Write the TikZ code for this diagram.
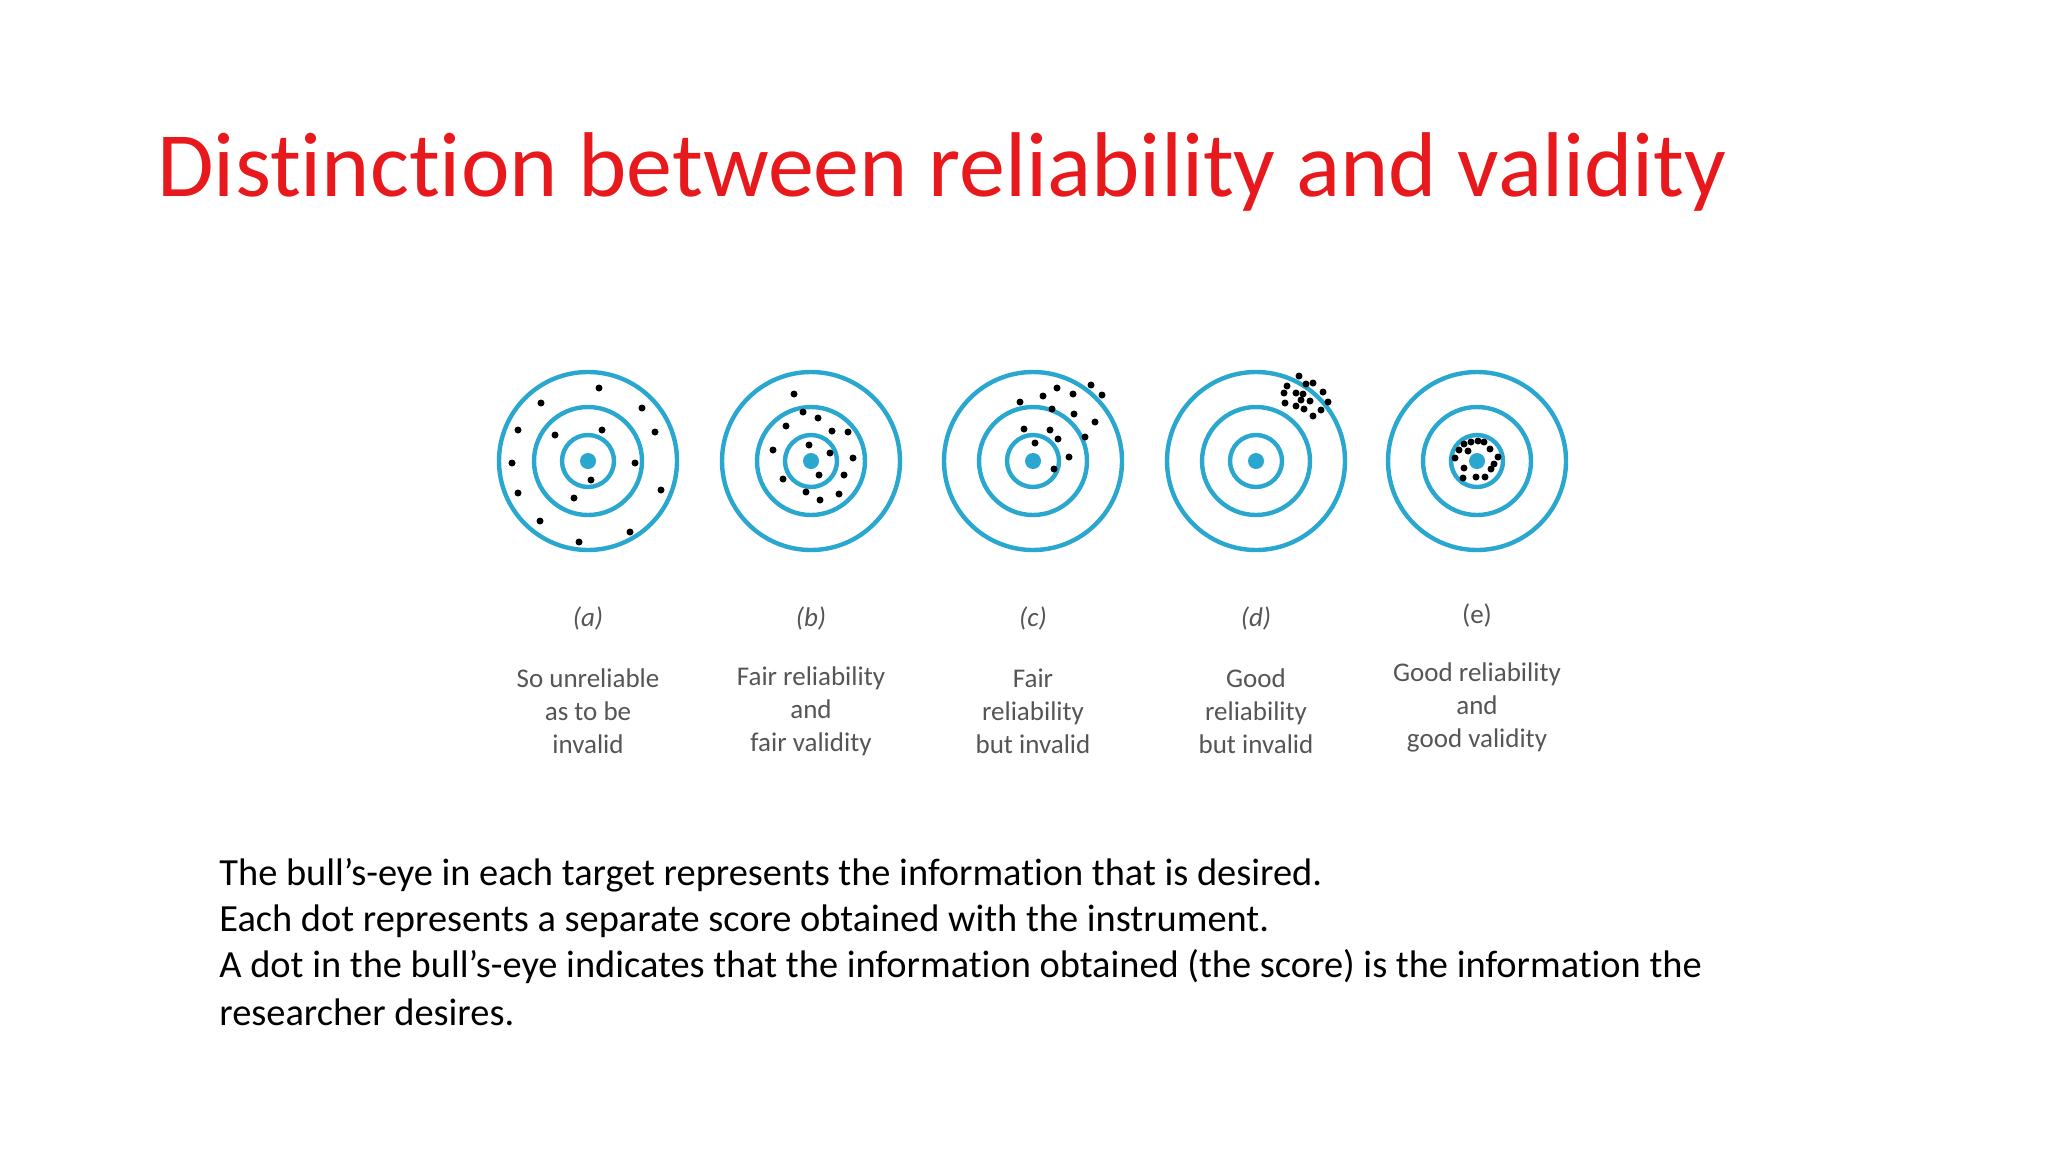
\documentclass[tikz,border=0pt]{standalone}
\usepackage{fontspec}
\usetikzlibrary{calc}
\setmainfont[Ligatures=NoCommon]{Carlito}
\definecolor{ring}{HTML}{2AA7CF}
\definecolor{ttl}{HTML}{E8191C}
\definecolor{lbl}{HTML}{555555}
\begin{document}
\begin{tikzpicture}[x=0.5pt,y=-0.5pt,
  ringst/.style={draw=ring,line width=2.2pt},
  bull/.style={fill=ring},
  dotst/.style={fill=black},
  lab/.style={text=lbl,font=\fontsize{13.5}{16.5}\selectfont,align=center},
  body/.style={anchor=west,font=\fontsize{19.2}{22}\selectfont,inner sep=0pt}]
\useasboundingbox (0,0) rectangle (2048,1152);
\fill[white] (0,0) rectangle (2048,1152);
\node[anchor=west,text=ttl,font=\fontsize{46}{52}\selectfont,inner sep=0pt] (title) at (157,172) {Distinction between reliability and validity};
\foreach \n/\cx in {a/588,b/811,c/1033,d/1256,e/1477}{
  \coordinate (t\n) at (\cx,461);
  \draw[ringst] (t\n) circle (89);
  \draw[ringst] (t\n) circle (54);
  \draw[ringst] (t\n) circle (26);
  \fill[bull] (t\n) circle (8);
}
\foreach \dx/\dy in {11/-73,-47/-58,54/-53,-70/-31,-33/-26,14/-31,67/-29,-76/2,47/2,3/19,-70/32,73/29,-14/37,-48/60,42/71,-9/81}
  \fill[dotst] ($(ta)+(\dx,\dy)$) circle (3.5);
\foreach \dx/\dy in {-17/-67,-8/-49,7/-43,-25/-35,21/-30,37/-29,-2/-16,-38/-11,19/-8,42/-3,8/14,33/14,-28/18,-5/31,28/33,9/39}
  \fill[dotst] ($(tb)+(\dx,\dy)$) circle (3.5);
\foreach \dx/\dy in {-13/-59,10/-65,24/-73,40/-67,58/-76,69/-66,19/-52,41/-47,62/-39,-9/-32,17/-31,25/-22,52/-24,2/-18,36/-4,21/8}
  \fill[dotst] ($(tc)+(\dx,\dy)$) circle (3.5);
\foreach \dx/\dy in {43/-85,50/-77,57/-78,31/-75,40/-68,28/-68,67/-69,47/-67,45/-61,54/-60,72/-59,29/-58,40/-55,48/-52,65/-51,57/-45}
  \fill[dotst] ($(td)+(\dx,\dy)$) circle (3.5);
\foreach \dx/\dy in {-13/-17,-6/-19,1/-20,7/-19,13/-12,-18/-11,21/-4,-22/-3,17/3,-13/7,14/8,-14/17,-1/16,8/16,-9/-10}
  \fill[dotst] ($(te)+(\dx,\dy)$) circle (3.5);
\node[lab] (la) at (588,618) {\itshape(a)};
\node[lab] (lb) at (811,618) {\itshape(b)};
\node[lab] (lc) at (1033,618) {\itshape(c)};
\node[lab] (ld) at (1256,618) {\itshape(d)};
\node[lab] (le) at (1477,615) {(e)};
\node[lab] (da) at (588,711) {So unreliable\\as to be\\invalid};
\node[lab] (db) at (811,711) {Fair reliability\\and\\fair validity};
\node[lab] (dc) at (1033,711) {Fair\\reliability\\but invalid};
\node[lab] (dd) at (1256,711) {Good\\reliability\\but invalid};
\node[lab] (de) at (1477,707) {Good reliability\\and\\good validity};
\node[body] (b1) at (219,875) {The bull’s-eye in each target represents the information that is desired.};
\node[body] (b2) at (219,921) {Each dot represents a separate score obtained with the instrument.};
\node[body] (b3) at (219,967) {A dot in the bull’s-eye indicates that the information obtained (the score) is the information the};
\node[body] (b4) at (219,1012) {researcher desires.};
\end{tikzpicture}
\end{document}
